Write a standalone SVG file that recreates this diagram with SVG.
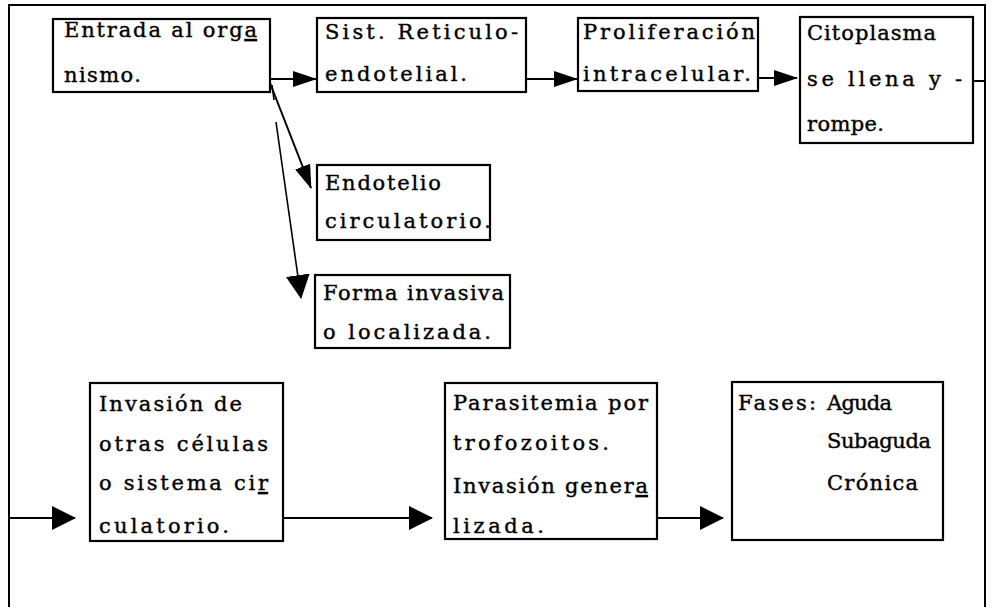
<svg xmlns="http://www.w3.org/2000/svg" width="993" height="607" viewBox="0 0 993 607">
<style>
.box{fill:#fff;stroke:#000;stroke-width:2.2}
.t{font-family:"DejaVu Serif","Liberation Serif",serif;font-size:21px;fill:#000;stroke:#000;stroke-width:0.4}
.u{text-decoration:underline}
.c{fill:none;stroke:#000;stroke-width:2}
.thin{fill:none;stroke:#000;stroke-width:1.6}
</style>
<defs>
<marker id="ah" markerUnits="userSpaceOnUse" markerWidth="24" markerHeight="16" refX="23" refY="8" orient="auto">
<path d="M0,0 L24,8 L0,16 z" fill="#000"/>
</marker>
<marker id="ahb" markerUnits="userSpaceOnUse" markerWidth="24" markerHeight="24" refX="23" refY="12" orient="auto">
<path d="M0,0 L24,12 L0,24 z" fill="#000"/>
</marker>
</defs>
<rect width="993" height="607" fill="#fff"/>
<g id="connectors">
<path class="c" d="M9,607 V5 H985 V607"/>
<line class="c" x1="270" y1="79" x2="316" y2="79" marker-end="url(#ah)"/>
<line class="c" x1="526" y1="79" x2="577" y2="79" marker-end="url(#ah)"/>
<line class="c" x1="758" y1="78" x2="797" y2="78" marker-end="url(#ah)"/>
<line class="c" x1="973" y1="81" x2="985" y2="81"/>
<line class="c" x1="270" y1="83" x2="311" y2="188" marker-end="url(#ah)"/>
<line class="thin" x1="272" y1="85" x2="274" y2="100"/>
<line class="thin" x1="276" y1="122" x2="301" y2="298" marker-end="url(#ahb)"/>
<line class="c" x1="9" y1="518" x2="75" y2="518" marker-end="url(#ahb)"/>
<line class="c" x1="283" y1="518" x2="432" y2="518" marker-end="url(#ahb)"/>
<line class="c" x1="657" y1="518" x2="723" y2="518" marker-end="url(#ahb)"/>
</g>
<g id="n1">
<rect class="box" x="53" y="19" width="217" height="73"/>
<text class="t" x="64" y="37" textLength="193">Entrada al org<tspan class="u">a</tspan></text>
<text class="t" x="64" y="82" textLength="77">nismo.</text>
</g>
<g id="n2">
<rect class="box" x="317" y="18" width="209" height="74"/>
<text class="t" x="325" y="39" textLength="193">Sist. Reticulo-</text>
<text class="t" x="325" y="81" textLength="142">endotelial.</text>
</g>
<g id="n3">
<rect class="box" x="578" y="18" width="180" height="73"/>
<text class="t" x="583" y="39" textLength="172">Proliferación</text>
<text class="t" x="583" y="81" textLength="168">intracelular.</text>
</g>
<g id="n4">
<rect class="box" x="800" y="17" width="173" height="126"/>
<text class="t" x="807" y="40" textLength="129">Citoplasma</text>
<text class="t" x="807" y="86" textLength="155">se llena y -</text>
<text class="t" x="807" y="131" textLength="77">rompe.</text>
</g>
<g id="n5">
<rect class="box" x="317" y="165" width="173" height="75"/>
<text class="t" x="325" y="190" textLength="116">Endotelio</text>
<text class="t" x="325" y="228" textLength="166">circulatorio.</text>
</g>
<g id="n6">
<rect class="box" x="315" y="275" width="195" height="73"/>
<text class="t" x="323" y="300" textLength="181">Forma invasiva</text>
<text class="t" x="323" y="339" textLength="168">o localizada.</text>
</g>
<g id="n7">
<rect class="box" x="90" y="383" width="193" height="158"/>
<text class="t" x="99" y="411" textLength="143">Invasión de</text>
<text class="t" x="99" y="451" textLength="169">otras células</text>
<text class="t" x="99" y="490" textLength="169">o sistema ci<tspan class="u">r</tspan></text>
<text class="t" x="99" y="533" textLength="130">culatorio.</text>
</g>
<g id="n8">
<rect class="box" x="445" y="383" width="212" height="156"/>
<text class="t" x="453" y="410" textLength="195">Parasitemia por</text>
<text class="t" x="453" y="450" textLength="156">trofozoitos.</text>
<text class="t" x="453" y="493" textLength="195">Invasión gener<tspan class="u">a</tspan></text>
<text class="t" x="453" y="533" textLength="91">lizada.</text>
</g>
<g id="n9">
<rect class="box" x="732" y="382" width="211" height="158"/>
<text class="t" x="738" y="410" textLength="78">Fases:</text>
<text class="t" x="827" y="410" textLength="65">Aguda</text>
<text class="t" x="827" y="448" textLength="104">Subaguda</text>
<text class="t" x="827" y="490" textLength="91">Crónica</text>
</g>
</svg>
